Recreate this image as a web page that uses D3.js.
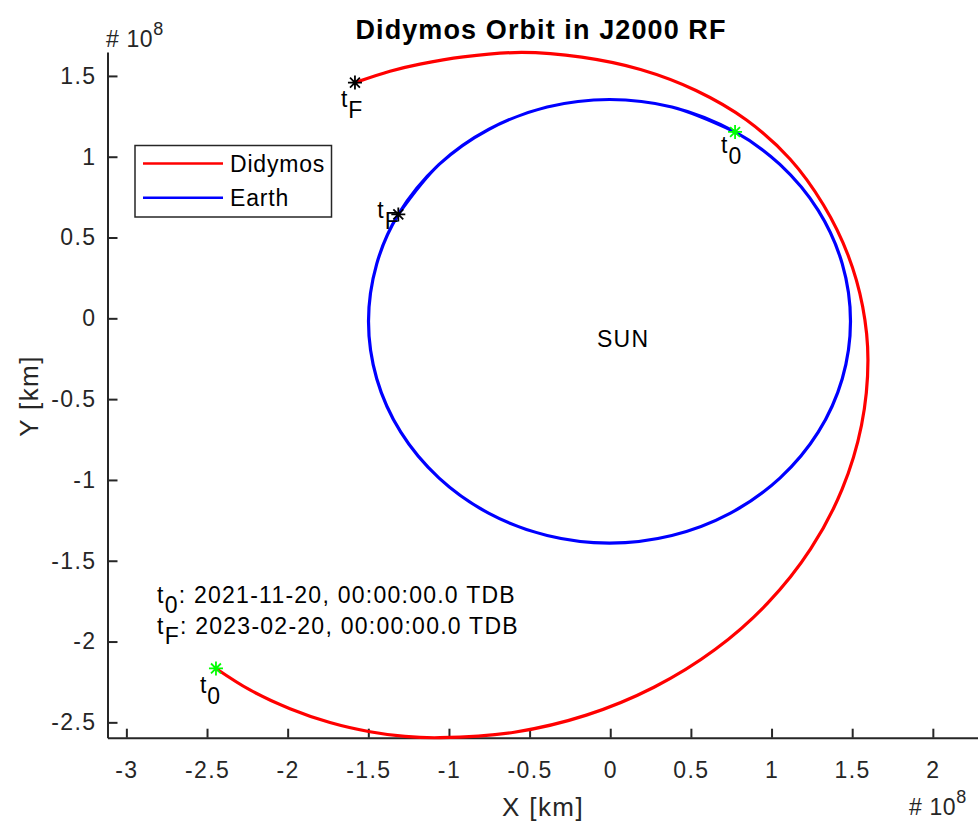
<!DOCTYPE html>
<html>
<head>
<meta charset="utf-8">
<script src="https://cdn.jsdelivr.net/npm/d3@7"></script>
<style>
  html, body { margin: 0; padding: 0; background: #fff; }
  svg { display: block; font-family: "Liberation Sans", Arial, Helvetica, sans-serif; }
</style>
</head>
<body>
<svg id="chart" width="978" height="822"></svg>
<script>
// Heliocentric positions in the J2000 frame, units of 1e8 km, from t0 to tF.
const didymosX = [-2.4445, -2.2337, -1.9857, -1.7378, -1.4898, -1.2728, -1.0558, -0.5952, -0.1482, 0.2709,
                  0.6497, 0.9771, 1.2424, 1.4377, 1.5574, 1.5977, 1.5648, 1.4740, 1.3221, 1.1144,
                  0.8447, 0.5316, 0.1875, -0.1773, -0.5499, -0.9113, -1.1798, -1.3658, -1.5828];
const didymosY = [-2.1665, -2.2995, -2.4158, -2.5012, -2.5582, -2.5873, -2.5950, -2.5613, -2.4554, -2.2828,
                  -2.0495, -1.7611, -1.4270, -1.0575, -0.6634, -0.2574, 0.0730, 0.3919, 0.7013, 0.9860,
                  1.2273, 1.4098, 1.5398, 1.6163, 1.6454, 1.6176, 1.5730, 1.5291, 1.4585];

// Earth: one full revolution plus the arc up to tF.
const earthX = [0.7738, 0.3820, -0.0046, -0.3913, -0.7517, -1.0611, -1.3140, -1.4478, -1.4988, -1.4478,
                -1.2986, -1.0611, -0.7517, -0.3913, -0.0046, 0.3820, 0.7424, 1.0518, 1.2893, 1.4385,
                1.4895, 1.4385, 1.2893, 1.0518, 0.7738, 0.3820, -0.0046, -0.3913, -0.7517, -1.0611,
                -1.3140];
const earthY = [1.1532, 1.3074, 1.3541, 1.3074, 1.1702, 0.9522, 0.6429, 0.3368, -0.0184, -0.3736,
                -0.7046, -0.9889, -1.2070, -1.3441, -1.3909, -1.3441, -1.2070, -0.9889, -0.7046, -0.3736,
                -0.0184, 0.3368, 0.6679, 0.9522, 1.1532, 1.3074, 1.3541, 1.3074, 1.1702, 0.9522,
                0.6429];

const seriesNames = ["Didymos", "Earth"];
const seriesColors = ["#ff0000", "#0000ff"];

const xTicks = [-3, -2.5, -2, -1.5, -1, -0.5, 0, 0.5, 1, 1.5, 2];
const yTicks = [-2.5, -2, -1.5, -1, -0.5, 0, 0.5, 1, 1.5];

const epochLabels = ["2021-11-20, 00:00:00.0 TDB", "2023-02-20, 00:00:00.0 TDB"];

const svg = d3.select("#chart");
const axisColor = "#262626";
const font = "'Liberation Sans', Arial, sans-serif";

const x = d3.scaleLinear().domain([-3.117, 2.28]).range([107.5, 978]);
const y = d3.scaleLinear().domain([-2.595, 1.648]).range([737.7, 52]);

// Axes (ticks pointing inward)
const gx = svg.append("g").attr("transform", `translate(0,${y.range()[0]})`)
  .call(d3.axisBottom(x).tickValues(xTicks).tickFormat(d => String(d))
    .tickSizeInner(-9).tickSizeOuter(0).tickPadding(24));
const gy = svg.append("g").attr("transform", `translate(${x.range()[0]},0)`)
  .call(d3.axisLeft(y).tickValues(yTicks).tickFormat(d => String(d))
    .tickSizeInner(-10).tickSizeOuter(0).tickPadding(11));
[gx, gy].forEach(g => {
  g.select(".domain").attr("stroke", axisColor).attr("stroke-width", 2);
  g.selectAll(".tick line").attr("stroke", axisColor).attr("stroke-width", 2);
  g.selectAll(".tick text").attr("fill", axisColor)
    .style("font-size", "23px").style("font-family", font).style("letter-spacing", "1.4px");
});

// Orbit tracks
const line = d3.line().x(d => x(d[0])).y(d => y(d[1])).curve(d3.curveCatmullRom.alpha(0.5));
const didymos = didymosX.map((v, i) => [v, didymosY[i]]);
const earth = earthX.map((v, i) => [v, earthY[i]]);

svg.append("path").datum(didymos).attr("d", line)
  .attr("fill", "none").attr("stroke", seriesColors[0]).attr("stroke-width", 3.2);
svg.append("path").datum(earth).attr("d", line)
  .attr("fill", "none").attr("stroke", seriesColors[1]).attr("stroke-width", 3.2);

// Asterisk marker: plus and cross overlaid
const asterisk = {
  draw(ctx, size) {
    const r = Math.sqrt(size) / 2;
    const d = r * Math.SQRT1_2;
    ctx.moveTo(-r, 0); ctx.lineTo(r, 0);
    ctx.moveTo(0, -r); ctx.lineTo(0, r);
    ctx.moveTo(-d, -d); ctx.lineTo(d, d);
    ctx.moveTo(-d, d); ctx.lineTo(d, -d);
  }
};
const markers = [
  { p: didymos[0], c: "#00ff00" },
  { p: didymos[didymos.length - 1], c: "#000000" },
  { p: earth[0], c: "#00ff00" },
  { p: earth[earth.length - 1], c: "#000000" }
];
svg.selectAll("path.mk").data(markers).join("path").attr("class", "mk")
  .attr("transform", d => `translate(${x(d.p[0])},${y(d.p[1])})`)
  .attr("d", d3.symbol().type(asterisk).size(196))
  .attr("fill", "none").attr("stroke", d => d.c).attr("stroke-width", 1.8);

// "t" labels with subscripts next to each marker
function tLabel(px, py, sub, dx, dy) {
  const t = svg.append("text").attr("x", px + dx).attr("y", py + dy)
    .attr("fill", "#000").style("font-size", "23px").style("letter-spacing", "1px");
  t.append("tspan").text("t");
  t.append("tspan").attr("dy", 11).text(sub);
}
tLabel(x(didymos[0][0]), y(didymos[0][1]), "0", -16, 25);
tLabel(x(didymos[didymos.length - 1][0]), y(didymos[didymos.length - 1][1]), "F", -14, 24);
tLabel(x(earth[0][0]), y(earth[0][1]), "0", -14, 21);
tLabel(x(earth[earth.length - 1][0]), y(earth[earth.length - 1][1]), "F", -21, 4);

// Sun
svg.append("text").attr("x", x(0.08)).attr("y", y(-0.18)).attr("text-anchor", "middle")
  .attr("fill", "#000").style("font-size", "23px").style("letter-spacing", "1.3px").text("SUN");

// Epoch annotation
["0", "F"].forEach((s, i) => {
  const t = svg.append("text").attr("x", 157).attr("y", 603 + i * 31)
    .attr("fill", "#000").style("font-size", "23px").style("letter-spacing", "1.25px");
  t.append("tspan").text("t");
  t.append("tspan").attr("dy", 10).text(s);
  t.append("tspan").attr("dy", -10).text(": " + epochLabels[i]);
});

// Legend
const lg = svg.append("g");
lg.append("rect").attr("x", 135).attr("y", 145.5).attr("width", 196.5).attr("height", 71.5)
  .attr("fill", "#fff").attr("stroke", axisColor).attr("stroke-width", 1.5);
seriesNames.forEach((n, i) => {
  const yy = 163.5 + i * 34.3;
  lg.append("line").attr("x1", 143).attr("x2", 223).attr("y1", yy).attr("y2", yy)
    .attr("stroke", seriesColors[i]).attr("stroke-width", 2.5);
  lg.append("text").attr("x", 230).attr("y", yy + 8).attr("fill", "#000")
    .style("font-size", "23px").style("letter-spacing", "0.8px").text(n);
});

// Title
svg.append("text").attr("x", 541).attr("y", 39).attr("text-anchor", "middle")
  .attr("fill", "#000").style("font-size", "27px").style("font-weight", "bold")
  .style("letter-spacing", "1.1px").text("Didymos Orbit in J2000 RF");

// Axis labels
svg.append("text").attr("x", 543).attr("y", 816).attr("text-anchor", "middle")
  .attr("fill", axisColor).style("font-size", "26px").style("letter-spacing", "1.4px").text("X [km]");
svg.append("text").attr("transform", "translate(38,396) rotate(-90)").attr("text-anchor", "middle")
  .attr("fill", axisColor).style("font-size", "26px").style("letter-spacing", "1.4px").text("Y [km]");

// Exponent labels
function expLabel(px, py) {
  const t = svg.append("text").attr("x", px).attr("y", py).attr("fill", axisColor)
    .style("font-size", "23px").style("letter-spacing", "0.6px");
  t.append("tspan").text("# 10");
  t.append("tspan").attr("dy", -12).style("font-size", "18px").text("8");
}
expLabel(106, 47);
expLabel(909, 815);
</script>
</body>
</html>
